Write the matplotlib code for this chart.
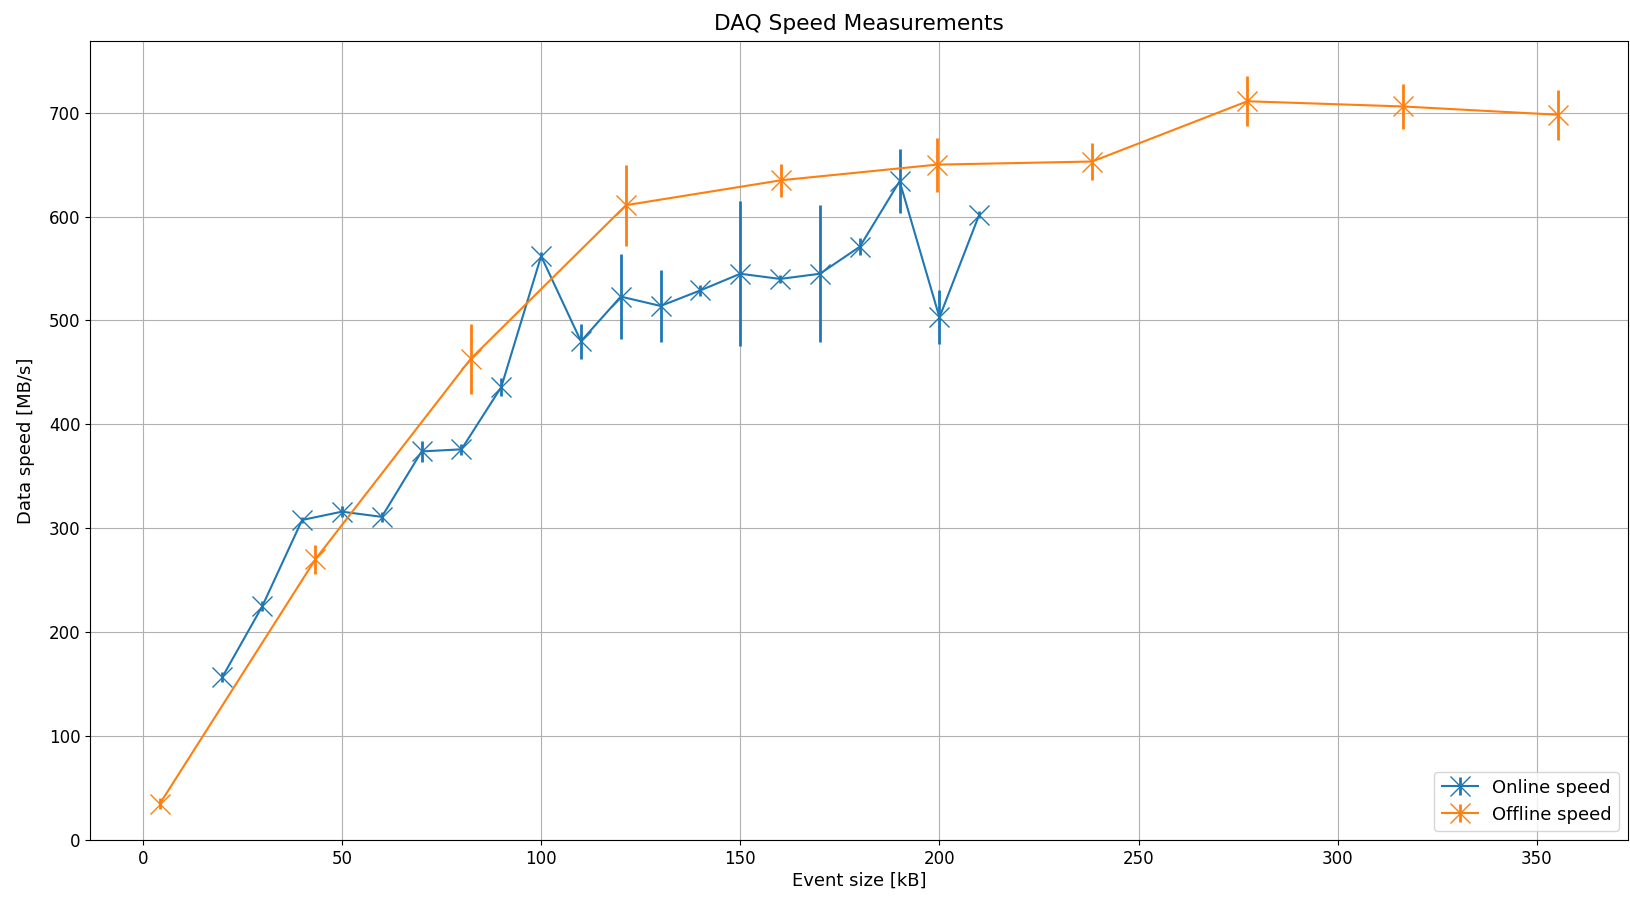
import matplotlib
matplotlib.use("Agg")
import matplotlib.pyplot as plt

# online measurements
online_size = [20, 30, 40, 50, 60, 70, 80, 90, 100, 110,
               120, 130, 140, 150, 160, 170, 180, 190, 200, 210]
online_speed = [157, 225, 308, 316, 311, 374, 376, 436, 562, 480,
                523, 514, 529, 545, 540, 545, 571, 634, 503, 602]
online_err = [5, 5, 3, 5, 5, 10, 5, 9, 4, 17,
              41, 35, 5, 70, 4, 66, 8, 31, 26, 3]

# offline measurements
offline_size = [4.3, 43.3, 82.3, 121.3, 160.3, 199.3, 238.3, 277.3, 316.3, 355.3]
offline_speed = [35, 270, 463, 611, 635, 650, 653, 711, 706, 698]
offline_err = [5, 14, 34, 39, 16, 26, 18, 24, 22, 24]

plt.rcParams['font.size'] = 13
plt.rcParams['xtick.labelsize'] = 12
plt.rcParams['ytick.labelsize'] = 12

fig = plt.figure(figsize=(16.3, 9), dpi=100)
ax = fig.add_axes([90 / 1630, 1 - 840 / 900, 1538 / 1630, 799 / 900])

ax.errorbar(online_size, online_speed, yerr=online_err, marker='x', markersize=14,
            elinewidth=2, label='Online speed')
ax.errorbar(offline_size, offline_speed, yerr=offline_err, marker='x', markersize=14,
            elinewidth=2, label='Offline speed')

ax.set_ylim(0, 769)
ax.set_title('DAQ Speed Measurements', pad=8)
ax.set_xlabel('Event size [kB]', labelpad=3)
ax.set_ylabel('Data speed [MB/s]', labelpad=10)
ax.grid(True)
ax.legend(loc='lower right')

fig.savefig('out.png')
